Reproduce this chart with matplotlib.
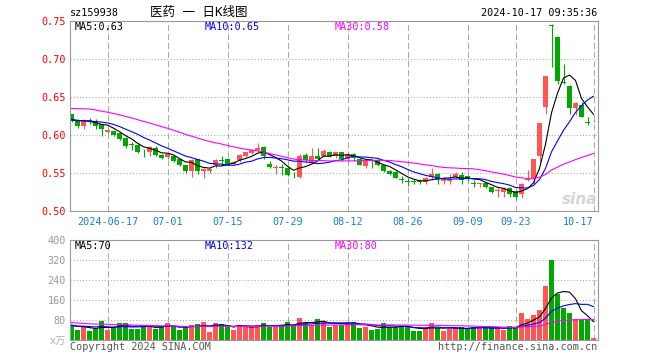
import numpy as np
import pandas as pd
import matplotlib
matplotlib.use('Agg')
import matplotlib.pyplot as plt

plt.rcParams['font.family'] = ['DejaVu Sans Mono', 'Noto Sans CJK SC']
plt.rcParams['lines.scale_dashes'] = False

# Pregões (dias úteis menos feriados da bolsa chinesa)
feriados = ['2024-06-10', '2024-09-16', '2024-09-17', '2024-10-01', '2024-10-02',
            '2024-10-03', '2024-10-04', '2024-10-07']
datas = pd.bdate_range('2024-06-06', '2024-10-17')
datas = datas[~datas.isin(pd.to_datetime(feriados))]

datas_eixo = ['2024-06-17', '2024-07-01', '2024-07-15', '2024-07-29', '2024-08-12',
              '2024-08-26', '2024-09-09', '2024-09-23', '2024-10-17']
rotulos_eixo = ['2024-06-17', '07-01', '07-15', '07-29', '08-12',
                '08-26', '09-09', '09-23', '10-17']

abertura = [0.627, 0.620, 0.612, 0.620, 0.618, 0.614, 0.604, 0.605, 0.603, 0.596,
            0.588, 0.587, 0.578, 0.578, 0.583, 0.574, 0.571, 0.573, 0.568, 0.560,
            0.552, 0.568, 0.553, 0.553, 0.561, 0.567, 0.569, 0.562, 0.567, 0.573,
            0.576, 0.580, 0.584, 0.562, 0.557, 0.558, 0.557, 0.548, 0.545, 0.574,
            0.565, 0.573, 0.573, 0.578, 0.572, 0.577, 0.569, 0.575, 0.569, 0.559,
            0.565, 0.567, 0.560, 0.553, 0.551, 0.542, 0.539, 0.539, 0.539, 0.538,
            0.545, 0.549, 0.539, 0.540, 0.545, 0.548, 0.546, 0.537, 0.536, 0.537,
            0.531, 0.526, 0.525, 0.530, 0.526, 0.522, 0.541, 0.542, 0.573, 0.637,
            0.745, 0.729, 0.670, 0.665, 0.635, 0.640, 0.617, 0.618]
maxima = [0.628, 0.621, 0.621, 0.622, 0.621, 0.615, 0.608, 0.606, 0.604, 0.597,
          0.591, 0.588, 0.582, 0.585, 0.585, 0.575, 0.576, 0.574, 0.569, 0.561,
          0.568, 0.569, 0.556, 0.557, 0.568, 0.572, 0.570, 0.566, 0.575, 0.578,
          0.582, 0.589, 0.585, 0.566, 0.560, 0.562, 0.558, 0.551, 0.575, 0.576,
          0.583, 0.583, 0.581, 0.579, 0.578, 0.578, 0.578, 0.576, 0.570, 0.567,
          0.569, 0.569, 0.561, 0.554, 0.552, 0.546, 0.543, 0.542, 0.542, 0.545,
          0.556, 0.550, 0.545, 0.549, 0.551, 0.551, 0.547, 0.541, 0.537, 0.538,
          0.532, 0.531, 0.531, 0.531, 0.527, 0.537, 0.554, 0.568, 0.616, 0.677,
          0.746, 0.730, 0.693, 0.666, 0.643, 0.644, 0.624, 0.620]
minima = [0.617, 0.609, 0.608, 0.615, 0.608, 0.599, 0.603, 0.599, 0.594, 0.583,
          0.580, 0.576, 0.571, 0.573, 0.572, 0.568, 0.569, 0.564, 0.559, 0.550,
          0.545, 0.549, 0.543, 0.550, 0.556, 0.562, 0.560, 0.561, 0.565, 0.571,
          0.575, 0.578, 0.569, 0.557, 0.549, 0.548, 0.546, 0.543, 0.543, 0.565,
          0.563, 0.567, 0.571, 0.571, 0.570, 0.566, 0.566, 0.566, 0.560, 0.557,
          0.557, 0.559, 0.551, 0.547, 0.543, 0.537, 0.533, 0.535, 0.535, 0.535,
          0.541, 0.536, 0.535, 0.536, 0.544, 0.536, 0.540, 0.532, 0.531, 0.530,
          0.524, 0.519, 0.519, 0.518, 0.516, 0.517, 0.540, 0.535, 0.565, 0.627,
          0.689, 0.667, 0.667, 0.628, 0.626, 0.624, 0.613, 0.617]
fechamento = [0.619, 0.612, 0.620, 0.618, 0.612, 0.608, 0.607, 0.600, 0.595, 0.586,
              0.587, 0.578, 0.577, 0.584, 0.574, 0.570, 0.575, 0.566, 0.560, 0.552,
              0.567, 0.553, 0.555, 0.555, 0.567, 0.566, 0.562, 0.565, 0.574, 0.578,
              0.580, 0.583, 0.573, 0.558, 0.558, 0.557, 0.548, 0.547, 0.573, 0.567,
              0.573, 0.569, 0.579, 0.572, 0.577, 0.568, 0.575, 0.570, 0.561, 0.566,
              0.564, 0.561, 0.553, 0.549, 0.544, 0.541, 0.538, 0.538, 0.538, 0.543,
              0.549, 0.542, 0.543, 0.541, 0.549, 0.541, 0.544, 0.536, 0.537, 0.531,
              0.525, 0.527, 0.529, 0.522, 0.518, 0.536, 0.542, 0.568, 0.616, 0.677,
              0.743, 0.671, 0.668, 0.635, 0.642, 0.624, 0.616, 0.619]
volume = [57, 40, 53, 36, 44, 77, 40, 53, 67, 67,
          44, 44, 60, 60, 44, 51, 69, 53, 40, 51,
          60, 64, 73, 33, 69, 64, 53, 40, 60, 53,
          53, 60, 69, 53, 53, 60, 73, 60, 89, 67,
          60, 84, 77, 53, 60, 60, 71, 71, 49, 53,
          40, 44, 67, 53, 53, 53, 53, 37, 37, 49,
          67, 49, 37, 44, 49, 53, 44, 53, 49, 49,
          49, 49, 40, 56, 49, 109, 84, 100, 120, 216,
          320, 184, 129, 109, 84, 80, 84, 9]

# histórico anterior à janela (só para as médias móveis)
fech_antes = [0.625, 0.622, 0.628, 0.650, 0.655, 0.648, 0.652, 0.645, 0.650, 0.648,
              0.646, 0.644, 0.648, 0.642, 0.645, 0.640, 0.642, 0.640, 0.638, 0.635,
              0.628, 0.625, 0.622, 0.618, 0.615, 0.618, 0.620, 0.622, 0.621]
vol_antes = [95, 100, 88, 72, 80, 75, 70, 85, 78, 72,
             68, 75, 80, 70, 65, 72, 68, 75, 70, 62,
             58, 55, 52, 60, 50, 65, 60, 55, 62]

vermelho = '#ff5555'
verde = '#00a800'
cinza = '#999999'

o = np.array(abertura)
c = np.array(fechamento)
x = np.arange(len(c))
cores = np.where(c >= o, vermelho, verde)

n0 = len(fech_antes)
serie = pd.Series(fech_antes + fechamento)
svol = pd.Series(vol_antes + volume)
ma = {k: serie.rolling(k).mean().values[n0:] for k in (5, 10, 30)}
mav = {k: svol.rolling(k).mean().values[n0:] for k in (5, 10, 30)}

pos_eixo = [datas.get_loc(pd.Timestamp(d)) for d in datas_eixo]

W, H = 660, 360
def caixa(esq, topo, dir, base):
    return [esq / W, 1 - base / H, (dir - esq) / W, (base - topo) / H]

fig = plt.figure(figsize=(6.6, 3.6), dpi=100)
ax = fig.add_axes(caixa(70, 21, 598, 211))
axv = fig.add_axes(caixa(70, 240, 598, 340))

# velas
ax.vlines(x, minima, maxima, colors=cores, lw=0.8)
corpo = np.maximum(np.abs(c - o), 0.001)
ax.bar(x, corpo, 0.8, bottom=np.minimum(o, c), color=cores, lw=0)
ax.plot(x, ma[5], color='black', lw=0.8)
ax.plot(x, ma[10], color='#0000ff', lw=0.8)
ax.plot(x, ma[30], color='#ff00ff', lw=0.8)

# volume
axv.bar(x, volume, 0.8, color=cores, lw=0)
axv.plot(x, mav[5], color='black', lw=0.8)
axv.plot(x, mav[10], color='#0000ff', lw=0.8)
axv.plot(x, mav[30], color='#ff00ff', lw=0.8)

for a in (ax, axv):
    a.set_xlim(-0.25, 87.75)
    a.set_xticks(pos_eixo)
    a.set_axisbelow(True)
    a.grid(axis='x', color='#aaaaaa', lw=0.75, linestyle=(0, (4.3, 2.2)))
    a.grid(axis='y', color='#aaaaaa', lw=0.75, linestyle=(0, (0.75, 1.5)))
    a.tick_params(length=0)
    for s in a.spines.values():
        s.set_color(cinza)
        s.set_linewidth(0.8)

ax.set_ylim(0.50, 0.75)
ax.set_yticks([0.50, 0.55, 0.60, 0.65, 0.70, 0.75])
ax.set_yticklabels(['0.50', '0.55', '0.60', '0.65', '0.70', '0.75'])
ax.tick_params(axis='y', colors='red', labelsize=7.3, pad=3)
ax.set_xticklabels(rotulos_eixo)
ax.tick_params(axis='x', colors='#1a7fd4', labelsize=7.3, pad=4.3)
ax.get_xticklabels()[-1].set_ha('right')

axv.set_ylim(0, 400)
axv.set_yticks([0, 80, 160, 240, 320, 400])
axv.set_yticklabels(['x万', '80', '160', '240', '320', '400'])
axv.tick_params(axis='y', colors=cinza, labelsize=7.3, pad=3)
axv.get_yticklabels()[0].set_color('#b0b0b0')
axv.set_xticklabels([])

# textos
def txt(xp, yp, s, tam=7.3, **kw):
    fig.text(xp / W, 1 - yp / H, s, va='center', fontsize=tam, **kw)

txt(70, 13, 'sz159938')
txt(150, 12, '医药 一 日K线图', tam=9)
txt(597, 13, '2024-10-17 09:35:36', ha='right')
txt(75, 27, 'MA5:0.63', color='black')
txt(205, 27, 'MA10:0.65', color='#0000ff')
txt(335, 27, 'MA30:0.58', color='#ff00ff')
txt(75, 246, 'MA5:70', color='black')
txt(205, 246, 'MA10:132', color='#0000ff')
txt(335, 246, 'MA30:80', color='#ff00ff')
txt(70, 347, 'Copyright 2024 SINA.COM', color='#555555')
txt(597, 347, 'http://finance.sina.com.cn', ha='right', color='#555555')

ax.text(0.998, 0.06, 'sina', transform=ax.transAxes, ha='right', va='center',
        fontsize=11, fontweight='bold', fontstyle='italic', color='#d4d4d4',
        family='DejaVu Sans')

fig.savefig('out.png', dpi=100)
